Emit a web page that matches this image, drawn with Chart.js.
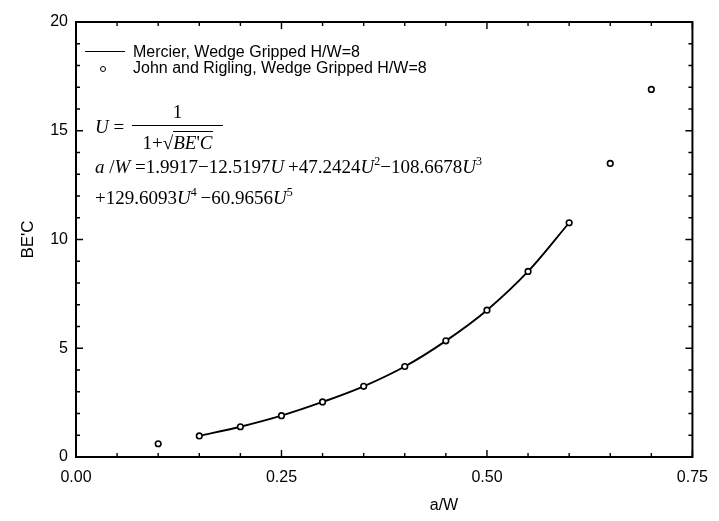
<!DOCTYPE html>
<html><head><meta charset="utf-8">
<script src="https://cdn.jsdelivr.net/npm/chart.js@4"></script>
<style>
html,body{margin:0;padding:0;background:#fff;}
#wrap{position:relative;width:719px;height:521px;}
canvas{position:absolute;left:0;top:0;}
.ov{position:absolute;color:#000;white-space:nowrap;}
.sans{font-family:"Liberation Sans",Arial,sans-serif;font-size:16px;line-height:16px;}
.eq{font-family:"Liberation Serif","Times New Roman",serif;font-size:19px;line-height:22px;}
.eq sup{font-size:12px;vertical-align:8px;line-height:0;}
</style></head>
<body><div id="wrap"><canvas id="c" width="719" height="521"></canvas>
<div class="ov" style="left:85px;top:51px;width:40px;height:0;border-top:1.8px solid #000;"></div>
<div class="ov" style="left:100px;top:66px;width:4px;height:4px;border:1.6px solid #000;border-radius:50%;background:#fff;"></div>
<div class="ov sans" id="leg1" style="left:133px;top:44px;"></div>
<div class="ov sans" id="leg2" style="left:133px;top:60px;"></div>
<div class="ov eq" style="left:95px;top:116px;"><i>U</i> =</div>
<div class="ov eq" style="left:132px;top:101px;width:91px;text-align:center;">1</div>
<div class="ov" style="left:132px;top:125px;width:91px;height:0;border-top:1.2px solid #000;"></div>
<div class="ov eq" style="left:132px;top:132px;width:91px;text-align:center;">1+√<span style="border-top:1.2px solid #000;"><i>BE</i>'<i>C</i></span></div>
<div class="ov eq" style="left:95px;top:156px;"><i>a</i> /<i>W</i> =1.9917−12.5197<i>U</i>&#8201;+47.2424<i>U</i><sup>2</sup>−108.6678<i>U</i><sup>3</sup></div>
<div class="ov eq" style="left:95px;top:187px;">+129.6093<i>U</i><sup>4</sup>&#8201;−60.9656<i>U</i><sup>5</sup></div>
<div class="ov sans" id="xtitle" style="left:404px;top:497px;width:80px;text-align:center;"></div>
</div>
<script>
// ---- data ----
const seriesNames = ["Mercier, Wedge Gripped H/W=8", "John and Rigling, Wedge Gripped H/W=8"];
const mercierX = [0.15, 0.20, 0.25, 0.30, 0.35, 0.40, 0.45, 0.50, 0.55, 0.60];
const mercierY = [0.97, 1.39, 1.90, 2.53, 3.25, 4.16, 5.34, 6.75, 8.53, 10.77];
const johnX = [0.10, 0.15, 0.20, 0.25, 0.30, 0.35, 0.40, 0.45, 0.50, 0.55, 0.60, 0.65, 0.70];
const johnY = [0.61, 0.97, 1.39, 1.90, 2.53, 3.25, 4.16, 5.34, 6.75, 8.53, 10.77, 13.5, 16.9];
const xTitle = "a/W";
const yTitle = "BE'C";
const xMin = 0, xMax = 0.75, xStep = 0.25, xMinor = 0.05;
const yMin = 0, yMax = 20, yStep = 5, yMinor = 1;

document.getElementById('leg1').textContent = seriesNames[0];
document.getElementById('leg2').textContent = seriesNames[1];
document.getElementById('xtitle').textContent = xTitle;

const framePlugin = {
  id: 'frame',
  afterDatasetsDraw(chart) {
    const {ctx, chartArea: a, scales: {x, y}} = chart;
    ctx.save();
    ctx.strokeStyle = '#000';
    ctx.lineWidth = 1.4;
    ctx.beginPath();
    const nx = Math.round((xMax - xMin) / xMinor);
    for (let i = 0; i <= nx; i++) {
      const v = xMin + i * xMinor;
      const px = x.getPixelForValue(v);
      const major = Math.abs(v / xStep - Math.round(v / xStep)) < 1e-6;
      const L = major ? 7 : 4;
      ctx.moveTo(px, a.bottom); ctx.lineTo(px, a.bottom - L);
      ctx.moveTo(px, a.top); ctx.lineTo(px, a.top + L);
    }
    const ny = Math.round((yMax - yMin) / yMinor);
    for (let i = 0; i <= ny; i++) {
      const v = yMin + i * yMinor;
      const py = y.getPixelForValue(v);
      const major = Math.abs(v / yStep - Math.round(v / yStep)) < 1e-6;
      const L = major ? 7 : 4;
      ctx.moveTo(a.left, py); ctx.lineTo(a.left + L, py);
      ctx.moveTo(a.right, py); ctx.lineTo(a.right - L, py);
    }
    ctx.stroke();
    ctx.lineWidth = 2;
    ctx.strokeRect(a.left, a.top, a.right - a.left, a.bottom - a.top);
    ctx.restore();
  }
};

const tickFont = {family: '"Liberation Sans", Arial, sans-serif', size: 16};

new Chart(document.getElementById('c'), {
  type: 'scatter',
  data: {
    datasets: [
      {
        label: seriesNames[0],
        data: mercierX.map((v, i) => ({x: v, y: mercierY[i]})),
        showLine: true, borderColor: '#000', borderWidth: 1.9,
        pointRadius: 0, cubicInterpolationMode: 'monotone', fill: false, order: 1
      },
      {
        label: seriesNames[1],
        data: johnX.map((v, i) => ({x: v, y: johnY[i]})),
        showLine: false, pointRadius: 2.8, pointBorderWidth: 1.6,
        pointBorderColor: '#000', pointBackgroundColor: '#fff', order: 0
      }
    ]
  },
  options: {
    responsive: false, animation: false,
    layout: {padding: {top: 22, right: 26, left: 0, bottom: 0}},
    plugins: {legend: {display: false}, tooltip: {enabled: false}},
    scales: {
      x: {
        type: 'linear', min: xMin, max: xMax,
        ticks: {stepSize: xStep, callback: v => v.toFixed(2), color: '#000', font: tickFont, padding: 11, maxRotation: 0, autoSkip: false},
        grid: {display: false, drawTicks: false}, border: {display: false},
        afterFit: s => { s.height = 64; }
      },
      y: {
        type: 'linear', min: yMin, max: yMax,
        ticks: {stepSize: yStep, color: '#000', font: tickFont, padding: 8},
        grid: {display: false, drawTicks: false}, border: {display: false},
        title: {display: true, text: yTitle, color: '#000', font: {family: '"Liberation Sans", Arial, sans-serif', size: 17}, padding: {top: 18, bottom: 0}},
        afterFit: s => { s.width = 76; }
      }
    }
  },
  plugins: [framePlugin]
});
</script>
</body></html>
